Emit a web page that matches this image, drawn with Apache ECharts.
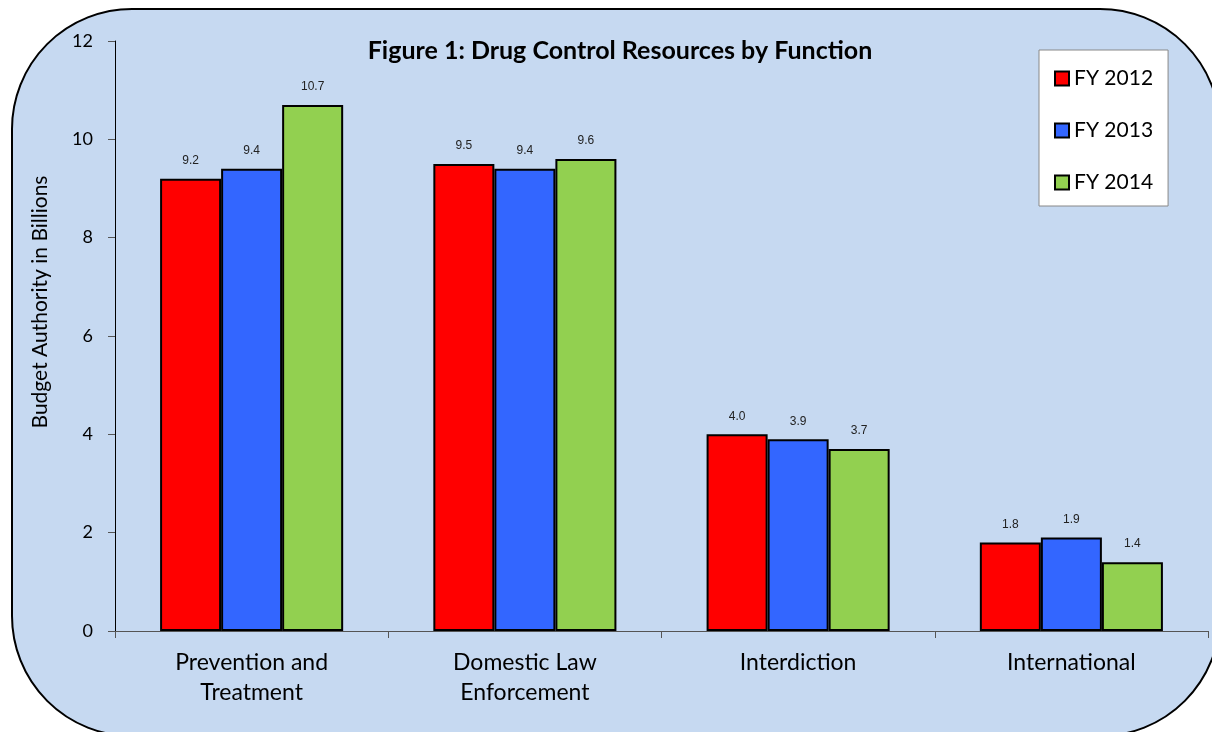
<!DOCTYPE html>
<html>
<head>
<meta charset="utf-8">
<script src="https://cdn.jsdelivr.net/npm/echarts@6/dist/echarts.min.js"></script>
<style>html,body{margin:0;padding:0;background:#fff;}#c{width:1212px;height:732px;}</style>
</head>
<body>
<div id="c"></div>
<script>
const categories = ['Prevention and\nTreatment', 'Domestic Law\nEnforcement', 'Interdiction', 'International'];
const fy2012 = [9.2, 9.5, 4.0, 1.8];
const fy2013 = [9.4, 9.4, 3.9, 1.9];
const fy2014 = [10.7, 9.6, 3.7, 1.4];
const seriesNames = ['FY 2012', 'FY 2013', 'FY 2014'];
const yTicks = { min: 0, max: 12, interval: 2 };

const chart = echarts.init(document.getElementById('c'));
const colors = ['#FF0000', '#3366FF', '#92D050'];
const label = {
  show: true, position: 'top', distance: 12,
  fontFamily: 'Liberation Sans, Arial', fontSize: 12, color: '#222',
  formatter: p => p.value.toFixed(1)
};
function mk(name, data, i) {
  return {
    name, type: 'bar', data, barGap: 0, barCategoryGap: '33%',
    itemStyle: { color: colors[i], borderColor: '#000', borderWidth: 2 },
    label
  };
}
chart.setOption({
  animation: false,
  backgroundColor: '#fff',
  graphic: [{
    type: 'rect', z: -10, silent: true,
    shape: { x: 12, y: 9, width: 1208, height: 727, r: 120 },
    style: { fill: '#C6D9F1', stroke: '#000', lineWidth: 2 }
  }],
  title: {
    text: 'Figure 1: Drug Control Resources by Function',
    left: 615, top: 33, textAlign: 'center',
    textStyle: { fontFamily: 'Lato', fontWeight: 'bold', fontSize: 25, color: '#000' }
  },
  legend: {
    orient: 'vertical', left: 1039, top: 50,
    backgroundColor: '#fff', borderColor: '#888', borderWidth: 1,
    padding: [18, 15, 13, 15], itemGap: 31,
    itemWidth: 14, itemHeight: 14, icon: 'rect',
    textStyle: { fontFamily: 'Lato', fontSize: 21, color: '#000', lineHeight: 20 },
    data: seriesNames
  },
  grid: { left: 115, right: 4, top: 41, bottom: 101 },
  xAxis: {
    type: 'category', data: categories,
    axisLine: { lineStyle: { color: '#555', width: 1 } },
    axisTick: { show: true, length: 7, lineStyle: { color: '#555' } },
    axisLabel: { fontFamily: 'Lato', fontSize: 23, color: '#000', lineHeight: 30, margin: 17 }
  },
  yAxis: {
    type: 'value', min: yTicks.min, max: yTicks.max, interval: yTicks.interval,
    name: 'Budget Authority in Billions', nameLocation: 'middle', nameGap: 64,
    nameTextStyle: { fontFamily: 'Lato', fontSize: 21, color: '#000', padding: [0, 0, 0, 68] },
    axisLine: { show: true, lineStyle: { color: '#000', width: 1 } },
    axisTick: { show: true, length: 7, lineStyle: { color: '#555' } },
    axisLabel: { fontFamily: 'Lato', fontSize: 18, color: '#000', margin: 22 },
    splitLine: { show: false }
  },
  series: [mk(seriesNames[0], fy2012, 0), mk(seriesNames[1], fy2013, 1), mk(seriesNames[2], fy2014, 2)]
});
</script>
</body>
</html>
